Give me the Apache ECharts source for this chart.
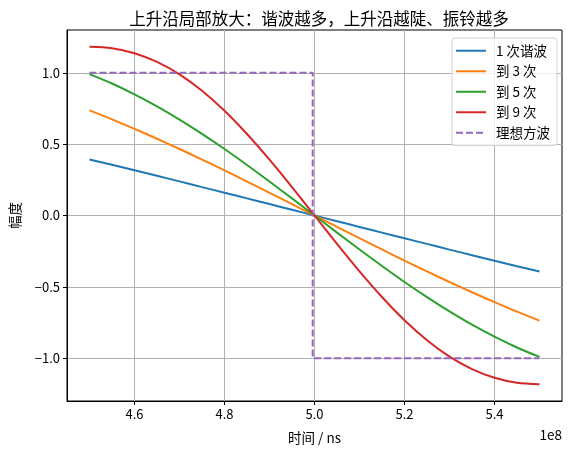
<!DOCTYPE html>
<html>
<head>
<meta charset="utf-8">
<script src="https://cdn.jsdelivr.net/npm/echarts@6/dist/echarts.min.js"></script>
<style>
  html, body { margin: 0; padding: 0; background: #fff; }
  #chart { width: 573px; height: 455px; }
</style>
</head>
<body>
<div id="chart"></div>
<script>
// x in units of 1e8 ns
const timeX = [4.50, 4.55, 4.60, 4.65, 4.70, 4.75, 4.80, 4.85, 4.90, 4.95, 5.00,
  5.05, 5.10, 5.15, 5.20, 5.25, 5.30, 5.35, 5.40, 5.45, 5.50];
const harm1 = [0.393, 0.355, 0.317, 0.278, 0.239, 0.199, 0.160, 0.120, 0.080, 0.040, 0,
  -0.040, -0.080, -0.120, -0.160, -0.199, -0.239, -0.278, -0.317, -0.355, -0.393];
const upTo3 = [0.737, 0.674, 0.607, 0.538, 0.466, 0.392, 0.316, 0.238, 0.159, 0.080, 0,
  -0.080, -0.159, -0.238, -0.316, -0.392, -0.466, -0.538, -0.607, -0.674, -0.737];
const upTo5 = [0.991, 0.925, 0.849, 0.765, 0.672, 0.572, 0.466, 0.354, 0.238, 0.120, 0,
  -0.120, -0.238, -0.354, -0.466, -0.572, -0.672, -0.765, -0.849, -0.925, -0.991];
const upTo9 = [1.182, 1.172, 1.137, 1.076, 0.989, 0.874, 0.734, 0.571, 0.391, 0.199, 0,
  -0.199, -0.391, -0.571, -0.734, -0.874, -0.989, -1.076, -1.137, -1.172, -1.182];
const idealX = [4.50, 4.996, 4.996, 5.50];
const idealY = [1, 1, -1, -1];

const xTicks = [4.6, 4.8, 5.0, 5.2, 5.4];
const yTicks = [-1.0, -0.5, 0.0, 0.5, 1.0];

const seriesNames = ['1 次谐波', '到 3 次', '到 5 次', '到 9 次', '理想方波'];
const colors = ['#1f77b4', '#ff7f0e', '#2ca02c', '#d62728', '#9467bd'];

const font = 'Noto Sans CJK SC, DejaVu Sans, sans-serif';
const pair = (xs, ys) => xs.map((x, i) => [x, ys[i]]);

// legend samples: plain line, and a dashed one for the ideal wave
const solidIcon = 'path://M0,6h30v2h-30z';
const dashIcon = 'path://M0,6h7v2h-7z M10,6h7v2h-7z M20,6h7v2h-7z M30,6h0v2h0z';

const curve = (name, ys, color) => ({
  name, type: 'line', data: pair(timeX, ys),
  smooth: 0.3, symbol: 'none', color,
  lineStyle: { color, width: 2 }
});

const chart = echarts.init(document.getElementById('chart'));
chart.setOption({
  animation: false,
  textStyle: { fontFamily: font },
  title: {
    text: '上升沿局部放大：谐波越多，上升沿越陡、振铃越多',
    left: 314, top: 5, textAlign: 'center',
    textStyle: { fontFamily: font, fontSize: 16.5, fontWeight: 'normal', color: '#000' }
  },
  grid: {
    left: 67, right: 11, top: 30, bottom: 54,
    show: true, borderColor: '#000', borderWidth: 1
  },
  legend: {
    right: 16, top: 38, orient: 'vertical',
    data: seriesNames.map((n, i) => ({ name: n, icon: i === 4 ? dashIcon : solidIcon })),
    itemWidth: 30, itemHeight: 14, itemGap: 7,
    backgroundColor: 'rgba(255,255,255,0.8)',
    borderColor: '#d0d0d0', borderWidth: 1, borderRadius: 3,
    padding: [6, 7, 6, 4],
    textStyle: { fontFamily: font, fontSize: 13.5, color: '#000', padding: [0, 0, 0, 5] }
  },
  xAxis: {
    type: 'value', min: 4.45, max: 5.55,
    name: '时间 / ns', nameLocation: 'middle', nameGap: 30,
    nameTextStyle: { fontFamily: font, fontSize: 13.5, color: '#000' },
    axisLine: { onZero: false, lineStyle: { color: '#000' } },
    axisTick: { show: true, length: 4, lineStyle: { color: '#000' }, customValues: xTicks },
    axisLabel: { color: '#000', fontSize: 13, margin: 7, customValues: xTicks,
      formatter: v => v.toFixed(1) },
    splitLine: { show: true, lineStyle: { color: '#b0b0b0', width: 1 } }
  },
  yAxis: {
    type: 'value', min: -1.3, max: 1.3,
    name: '幅度', nameLocation: 'middle', nameGap: 45, nameRotate: 90,
    nameTextStyle: { fontFamily: font, fontSize: 13.5, color: '#000' },
    axisLine: { onZero: false, lineStyle: { color: '#000' } },
    axisTick: { show: true, length: 4, lineStyle: { color: '#000' }, customValues: yTicks },
    axisLabel: { color: '#000', fontSize: 13, margin: 7, customValues: yTicks,
      formatter: v => (v < 0 ? '\u2212' : '') + Math.abs(v).toFixed(1) },
    splitLine: { show: true, lineStyle: { color: '#b0b0b0', width: 1 } }
  },
  graphic: [{
    type: 'text', right: 11, top: 428,
    style: { text: '1e8', fontFamily: font, fontSize: 13.5, fill: '#000' }
  }],
  series: [
    curve(seriesNames[0], harm1, colors[0]),
    curve(seriesNames[1], upTo3, colors[1]),
    curve(seriesNames[2], upTo5, colors[2]),
    curve(seriesNames[3], upTo9, colors[3]),
    {
      name: seriesNames[4], type: 'line', data: pair(idealX, idealY),
      symbol: 'none', color: colors[4],
      lineStyle: { color: colors[4], width: 2, type: [7, 3] }
    }
  ]
});
</script>
</body>
</html>
